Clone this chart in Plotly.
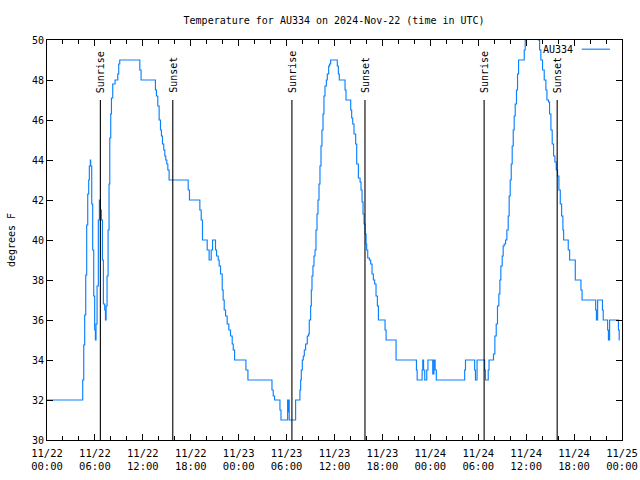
import pandas as pd
import plotly.graph_objects as go

# ---- data (hours since 2024-11-22 00:00 UTC, temperature in degrees F) ----
start = pd.Timestamp("2024-11-22 00:00")

day1_hours = [0, 4.47, 4.60, 4.72, 4.85, 4.97, 5.10, 5.22, 5.30, 5.43, 5.47, 5.60, 5.72, 5.85,
              5.97, 6.06, 6.14, 6.27, 6.43, 6.56, 6.68, 6.81, 6.94, 7.06, 7.23, 7.32, 7.40,
              7.52, 7.65, 7.77, 7.86, 7.98, 8.07, 8.23, 8.52, 8.86, 8.98, 9.11, 11.62, 11.78,
              13.58, 13.70, 13.87, 14.04, 14.21, 14.33, 14.46, 14.62, 14.75, 14.87, 15.00,
              15.13, 15.29, 17.68, 17.84, 19.14, 19.31, 19.47, 20.06, 20.30, 20.56, 20.73,
              21.10, 21.23, 21.44, 21.56, 21.73, 21.94, 22.06, 22.19, 22.36, 22.56, 22.77,
              22.98, 23.19, 23.32, 23.49]
day1_temps = [32, 33, 34.75, 36.25, 38.25, 40.75, 42.3, 43.0, 43.7, 44.0, 43.7, 41.8, 39.5, 37.2,
              35.5, 35.0, 35.8, 37.7, 41.0, 42.0, 41.5, 41.0, 39.0, 36.8, 36.5, 36.0, 36.7,
              38.2, 40.5, 42.8, 45.1, 46.3, 47.1, 47.8, 48.0, 48.3, 48.8, 49.0, 48.5, 48.0,
              47.5, 47.2, 46.7, 46.0, 45.5, 45.2, 44.8, 44.5, 44.2, 44.0, 43.8,
              43.5, 43.0, 42.5, 42.0, 41.5, 41.0, 40.0, 39.5, 39.0, 39.5, 40.0,
              39.5, 39.2, 39.0, 38.7, 38.3, 37.5, 37.0, 36.5, 36.2, 35.8, 35.5,
              35.2, 34.8, 34.5, 34.0]

day2_hours = [24.91, 25.16, 28.17, 28.33, 28.50, 29.17, 29.30, 30.13, 30.20, 30.27, 30.33,
              31.13, 31.67, 31.76, 31.84, 31.97, 32.09, 32.22, 32.38, 32.59, 32.76, 32.84,
              33.01, 33.10, 33.18, 33.30, 33.43, 33.56, 33.68, 33.81, 33.93, 34.06, 34.18,
              34.31, 34.43, 34.56, 34.68, 34.81, 34.98, 35.10, 35.27, 35.39, 35.52, 36.35,
              36.48, 36.60, 37.32, 37.44, 38.03, 38.15, 38.28, 38.44, 38.65, 38.78, 38.99,
              39.20, 39.32, 39.45, 39.57, 39.70, 39.82, 39.95, 40.03, 40.16, 40.37, 40.53,
              40.70, 40.87, 41.03, 41.20, 41.37, 41.50, 42.33, 42.46, 43.71]
day2_temps = [33.5, 33.0, 32.5, 32.2, 32.0, 31.5, 31.0, 32.0, 31.4, 32.0, 31.0,
              32.0, 32.5, 33.0, 33.5, 34.0, 34.2, 34.5, 34.8, 35.2, 35.3, 36.0,
              36.7, 37.5, 38.2, 38.7, 39.2, 39.5, 40.5, 41.3, 42.0, 42.8, 43.7,
              44.7, 45.5, 46.3, 47.2, 47.7, 48.0, 48.3, 48.7, 48.8, 49.0, 48.7,
              48.3, 48.0, 47.5, 47.0, 46.5, 46.1, 45.8, 45.3, 44.8, 43.8, 43.1,
              42.9, 42.5, 41.9, 41.3, 40.8, 40.3, 39.8, 39.5, 39.1, 39.0, 38.8,
              38.3, 38.0, 37.8, 37.2, 36.7, 36.0, 35.5, 35.0, 34.0]

day3_hours = [46.26, 46.35, 46.97, 47.05, 47.15, 47.30, 47.55, 47.70, 48.30, 48.45, 48.60,
              48.75, 52.30, 52.40, 53.55, 53.65, 53.85, 54.80, 54.90, 55.25, 55.35, 55.91,
              56.08, 56.25, 56.41, 56.58, 56.71, 56.83, 57.00, 57.12, 57.25, 57.42, 57.58,
              57.75, 57.87, 58.00, 58.13, 58.25, 58.38, 58.50, 58.63, 58.79, 58.92, 59.05,
              59.76, 59.88, 60.01, 60.09, 61.51, 61.68, 61.84, 62.05, 62.26, 62.47, 62.60,
              62.80, 62.93, 63.10, 63.26, 63.43, 63.60, 63.77, 63.93, 64.10, 64.27, 64.44,
              64.60, 64.69, 65.27, 65.44, 66.15, 66.86, 67.00, 68.70, 68.80, 68.95, 69.55,
              69.65, 70.20, 70.30, 70.45, 71.55, 71.65, 71.70]
day3_temps = [33.5, 33.0, 33.5, 34.0, 33.5, 33.0, 33.5, 34.0, 33.3, 34.0, 33.5,
              33.0, 33.5, 34.0, 33.5, 33.0, 34.0, 33.5, 33.0, 33.5, 34.0, 34.3,
              35.2, 35.8, 36.7, 37.3, 38.0, 38.7, 39.2, 39.7, 39.8, 40.0, 40.5,
              41.2, 42.2, 43.0, 43.8, 44.7, 45.5, 46.2, 46.8, 47.5, 48.3, 49.0,
              49.5, 50.0, 50.5, 51.0, 50.0, 49.5, 49.0, 48.5, 48.0, 47.5, 47.0,
              46.9, 46.3, 45.5, 44.8, 44.2, 43.9, 43.5, 43.2, 42.5, 41.8, 41.2,
              40.5, 40.0, 39.5, 39.0, 38.0, 37.5, 37.0, 36.5, 36.0, 37.0, 36.5,
              36.0, 35.5, 35.0, 36.0, 35.5, 35.0, 35.0]

sunrise_times = ["2024-11-22 06:41", "2024-11-23 06:40", "2024-11-24 06:44"]
sunset_times = ["2024-11-22 15:45", "2024-11-23 15:49", "2024-11-24 15:53"]

station = "AU334"
title_text = "Temperature for AU334 on 2024-Nov-22 (time in UTC)"

# ---- build ----
hours = day1_hours + day2_hours + day3_hours
temps = day1_temps + day2_temps + day3_temps
times = [start + pd.Timedelta(hours=h) for h in hours]

FONT = "DejaVu Sans Mono"
LINE_COLOR = "#0a80ff"
fig = go.Figure()
fig.add_trace(go.Scatter(x=times, y=temps, mode="lines", line_shape="hv",
                         line=dict(color=LINE_COLOR, width=1.15), name=station,
                         showlegend=False))

for label, tlist in (("Sunrise", sunrise_times), ("Sunset", sunset_times)):
    for t in tlist:
        fig.add_shape(type="line", x0=t, x1=t, y0=30, y1=47, xref="x", yref="y",
                      line=dict(color="black", width=1.1))
        fig.add_annotation(x=t, y=47, xref="x", yref="y", text=label, textangle=-90,
                           showarrow=False, yanchor="bottom", xanchor="center",
                           yshift=5, font=dict(family=FONT, size=10, color="black"))

# gnuplot-style key: text then sample line
fig.add_annotation(x=0.918, y=0.977, xref="paper", yref="paper", text=station,
                   showarrow=False, xanchor="right", yanchor="middle",
                   font=dict(family=FONT, size=10, color="black"))
fig.add_shape(type="line", x0=0.930, x1=0.979, y0=0.977, y1=0.977,
              xref="paper", yref="paper", line=dict(color=LINE_COLOR, width=1.15))

fig.update_layout(
    width=640, height=480,
    margin=dict(l=47, r=18, t=40, b=40, pad=0, autoexpand=False),
    paper_bgcolor="white", plot_bgcolor="white",
    font=dict(family=FONT, size=10, color="black"),
    title=dict(text=title_text, x=0.522, xanchor="center", y=0.958, yanchor="middle",
               font=dict(family=FONT, size=10, color="black")),
    showlegend=False,
)
fig.update_xaxes(
    type="date", range=["2024-11-22 00:00", "2024-11-25 00:00"],
    tick0="2024-11-22 00:00", dtick=6 * 3600000, tickformat="%m/%d<br>%H:%M",
    ticks="inside", ticklen=6, tickcolor="black", tickwidth=1,
    minor=dict(dtick=2 * 3600000, ticks="inside", ticklen=4, tickcolor="black", tickwidth=1),
    showline=True, linecolor="black", linewidth=1, mirror="ticks",
    showgrid=False, zeroline=False, ticklabelstandoff=3,
    tickfont=dict(family=FONT, size=10.5, color="black"),
)
fig.update_yaxes(
    range=[30, 50], dtick=2, tick0=30,
    ticks="inside", ticklen=6, tickcolor="black", tickwidth=1,
    showline=True, linecolor="black", linewidth=1, mirror="ticks",
    showgrid=False, zeroline=False,
    title=dict(text="degrees F", standoff=14, font=dict(family=FONT, size=10, color="black")),
    tickfont=dict(family=FONT, size=10, color="black"),
)

fig.write_html("out.html", config={"displayModeBar": False},
               post_script="document.body.style.margin='0';")
